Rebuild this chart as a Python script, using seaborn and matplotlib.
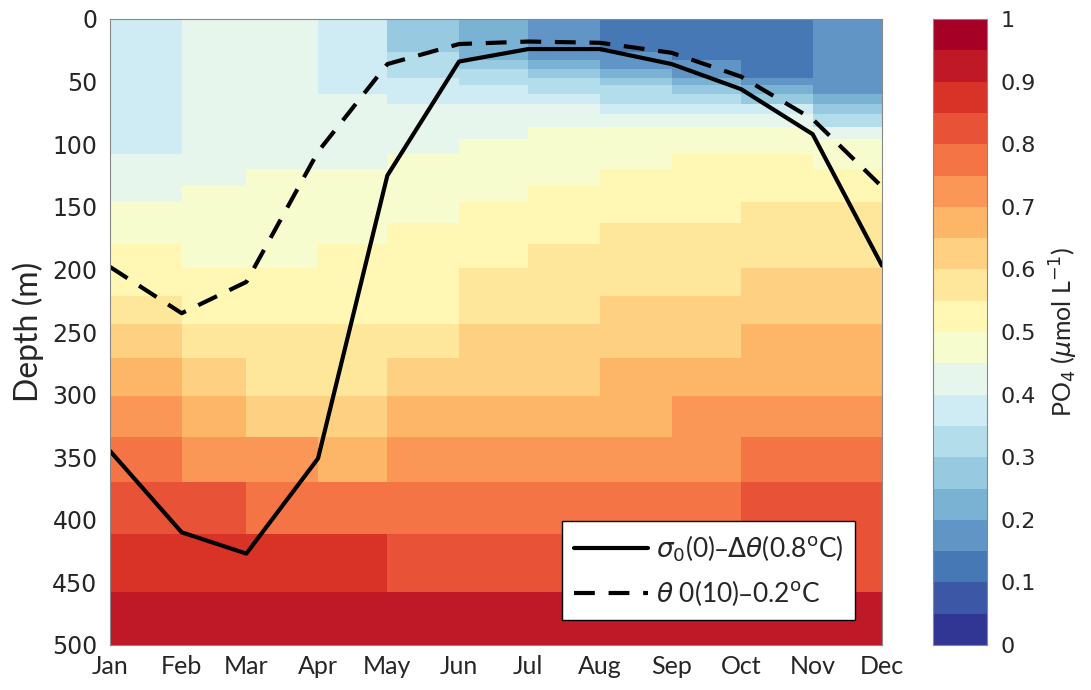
import numpy as np
import matplotlib
matplotlib.use("Agg")
import matplotlib.pyplot as plt
from matplotlib.colors import ListedColormap
import seaborn as sns

# month starts (day of year) used as cell edges / line nodes
months = ['Jan', 'Feb', 'Mar', 'Apr', 'May', 'Jun',
          'Jul', 'Aug', 'Sep', 'Oct', 'Nov', 'Dec']
month_day = [0, 31, 59, 90, 120, 151, 181, 212, 243, 273, 304, 334]

# depth layer edges (m)
depth_edges = [0, 26, 33, 40, 47, 53, 60, 68, 76, 86, 96, 108, 120, 133,
               146, 163, 180, 199, 221, 244, 271, 301, 334, 370, 411, 458,
               500]

# PO4 (umol/L), one row per depth layer, columns Jan..Nov
po4 = [
    [0.375, 0.425, 0.425, 0.375, 0.275, 0.225, 0.175, 0.125, 0.125, 0.125, 0.175],
    [0.375, 0.425, 0.425, 0.375, 0.325, 0.225, 0.175, 0.175, 0.125, 0.125, 0.175],
    [0.375, 0.425, 0.425, 0.375, 0.325, 0.275, 0.225, 0.175, 0.175, 0.125, 0.175],
    [0.375, 0.425, 0.425, 0.375, 0.325, 0.325, 0.275, 0.225, 0.175, 0.125, 0.175],
    [0.375, 0.425, 0.425, 0.375, 0.375, 0.325, 0.325, 0.275, 0.225, 0.175, 0.175],
    [0.375, 0.425, 0.425, 0.375, 0.375, 0.375, 0.325, 0.325, 0.275, 0.225, 0.175],
    [0.375, 0.425, 0.425, 0.425, 0.375, 0.375, 0.375, 0.325, 0.325, 0.275, 0.225],
    [0.375, 0.425, 0.425, 0.425, 0.425, 0.425, 0.425, 0.375, 0.375, 0.375, 0.275],
    [0.375, 0.425, 0.425, 0.425, 0.425, 0.425, 0.425, 0.425, 0.425, 0.425, 0.325],
    [0.375, 0.425, 0.425, 0.425, 0.425, 0.425, 0.475, 0.475, 0.475, 0.475, 0.425],
    [0.375, 0.425, 0.425, 0.425, 0.425, 0.475, 0.475, 0.475, 0.475, 0.475, 0.475],
    [0.425, 0.425, 0.425, 0.425, 0.475, 0.475, 0.475, 0.475, 0.525, 0.525, 0.475],
    [0.425, 0.425, 0.475, 0.475, 0.475, 0.475, 0.475, 0.525, 0.525, 0.525, 0.525],
    [0.425, 0.475, 0.475, 0.475, 0.475, 0.475, 0.525, 0.525, 0.525, 0.525, 0.525],
    [0.475, 0.475, 0.475, 0.475, 0.475, 0.525, 0.525, 0.525, 0.525, 0.575, 0.575],
    [0.475, 0.475, 0.475, 0.475, 0.525, 0.525, 0.525, 0.575, 0.575, 0.575, 0.575],
    [0.525, 0.475, 0.475, 0.525, 0.525, 0.525, 0.575, 0.575, 0.575, 0.575, 0.575],
    [0.525, 0.525, 0.525, 0.525, 0.525, 0.575, 0.575, 0.575, 0.575, 0.625, 0.625],
    [0.575, 0.525, 0.525, 0.525, 0.525, 0.575, 0.575, 0.625, 0.625, 0.625, 0.625],
    [0.625, 0.575, 0.575, 0.575, 0.575, 0.625, 0.625, 0.625, 0.625, 0.675, 0.675],
    [0.675, 0.625, 0.575, 0.575, 0.625, 0.625, 0.625, 0.675, 0.675, 0.675, 0.675],
    [0.725, 0.675, 0.625, 0.625, 0.675, 0.675, 0.675, 0.675, 0.725, 0.725, 0.725],
    [0.775, 0.725, 0.725, 0.675, 0.725, 0.725, 0.725, 0.725, 0.725, 0.775, 0.775],
    [0.825, 0.825, 0.775, 0.775, 0.775, 0.775, 0.775, 0.775, 0.775, 0.825, 0.825],
    [0.875, 0.875, 0.875, 0.875, 0.825, 0.825, 0.825, 0.825, 0.825, 0.825, 0.825],
    [0.925, 0.925, 0.925, 0.925, 0.925, 0.925, 0.925, 0.925, 0.925, 0.925, 0.925],
]

# mixed layer depth (m) at each month node
mld_sigma = [345, 410, 427, 351, 125, 34, 24, 24, 36, 56, 92, 197]
mld_theta = [198, 235, 210, 106, 36, 20, 18, 19, 27, 46, 80, 134]

sns.set_style("white")
plt.rcParams['font.family'] = ['Lato', 'DejaVu Sans']
plt.rcParams['mathtext.fontset'] = 'dejavusans'

cmap = ListedColormap(matplotlib.colormaps['RdYlBu_r'].resampled(20)(np.arange(20)))

fig = plt.figure(figsize=(10.91, 6.90), dpi=100)
ax = fig.add_axes([110 / 1091, 45 / 690, 772 / 1091, 626 / 690])
mesh = ax.pcolormesh(month_day, depth_edges, np.array(po4), cmap=cmap,
                     vmin=0, vmax=1, shading='flat')

sns.lineplot(x=month_day, y=mld_sigma, color='k', lw=3, ax=ax,
             label=r'$\sigma_0$(0)–$\Delta\theta$(0.8$^{\rm o}$C)')
sns.lineplot(x=month_day, y=mld_theta, color='k', lw=3, ax=ax,
             linestyle=(0, (5, 3.3)),
             label=r'$\theta$ 0(10)–0.2$^{\rm o}$C')

ax.set_xlim(0, 334)
ax.set_ylim(500, 0)
ax.set_xticks(month_day)
ax.set_xticklabels(months, fontsize=18, color='#262626')
ax.set_yticks(np.arange(0, 501, 50))
ax.set_yticklabels([str(v) for v in range(0, 501, 50)], fontsize=17,
                   family='DejaVu Sans', color='#262626')
ax.tick_params(axis='x', length=0, pad=7)
ax.tick_params(axis='y', length=0, pad=9)
ax.set_ylabel('Depth (m)', fontsize=23, labelpad=6, color='#262626')
ax.set_xlabel('')
for s in ax.spines.values():
    s.set_color('#888888')
    s.set_linewidth(0.8)

leg = ax.legend(loc='lower right', bbox_to_anchor=(0.965, 0.04),
                fontsize=19, frameon=True, fancybox=False, framealpha=1,
                edgecolor='black', handlelength=2.8, labelspacing=0.55,
                borderpad=0.45, handletextpad=0.3, borderaxespad=0)
leg.get_frame().set_linewidth(1.0)

cax = fig.add_axes([933 / 1091, 45 / 690, 54 / 1091, 626 / 690])
cb = fig.colorbar(mesh, cax=cax, ticks=np.arange(0, 1.01, 0.1))
cb.ax.set_yticklabels(['0', '0.1', '0.2', '0.3', '0.4', '0.5', '0.6',
                       '0.7', '0.8', '0.9', '1'], fontsize=16,
                      family='DejaVu Sans', color='#262626')
cb.ax.tick_params(length=4, width=0.6, direction='in', pad=10)
cb.outline.set_edgecolor('#888888')
cb.outline.set_linewidth(0.8)
cb.set_label(r'PO$_4$ ($\mu$mol L$^{-1}$)', fontsize=18, labelpad=8,
             color='#262626')

fig.savefig('out.png', dpi=100)
